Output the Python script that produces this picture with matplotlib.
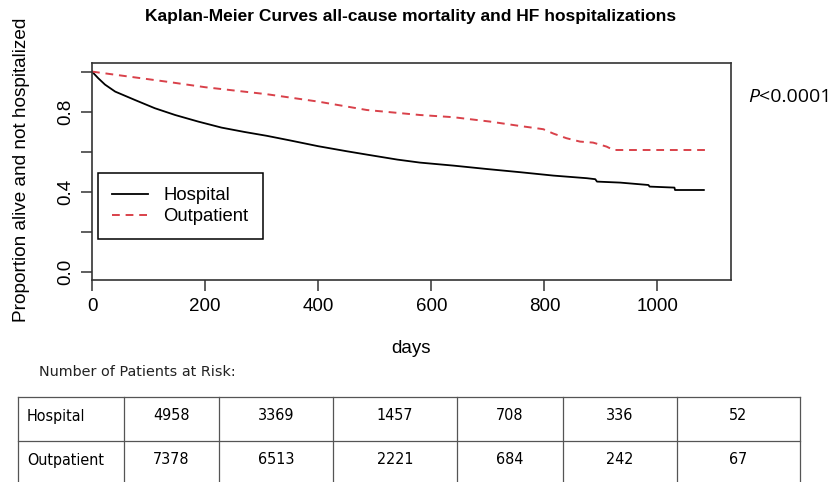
import matplotlib
matplotlib.use("Agg")
import matplotlib.pyplot as plt

# Kaplan-Meier estimates
hosp_days = [0, 11, 23, 41, 76, 111, 147, 188, 229, 270, 309, 350, 400, 450, 486,
             540, 580, 639, 698, 757, 816, 875, 890, 893, 934, 984, 986, 1030, 1031, 1082]
hosp_surv = [1.0, 0.967, 0.935, 0.9, 0.858, 0.817, 0.783, 0.75, 0.72, 0.698, 0.679,
             0.656, 0.627, 0.602, 0.585, 0.56, 0.545, 0.53, 0.513, 0.497, 0.48, 0.467,
             0.462, 0.45, 0.445, 0.433, 0.425, 0.42, 0.408, 0.408]
out_days = [0, 131, 200, 309, 400, 486, 580, 639, 704, 757, 798, 816, 839, 863, 886, 910,
            922, 1084]
out_surv = [1.0, 0.95, 0.922, 0.887, 0.85, 0.808, 0.783, 0.772, 0.75, 0.728, 0.712, 0.69,
            0.667, 0.65, 0.645, 0.625, 0.608, 0.608]

x_ticks = [0, 200, 400, 600, 800, 1000]
y_ticks = [0.0, 0.2, 0.4, 0.6, 0.8, 1.0]
y_ticklabels = ["0.0", "", "0.4", "", "0.8", ""]

groups = ["Hospital", "Outpatient"]
at_risk = [[4958, 3369, 1457, 708, 336, 52],
           [7378, 6513, 2221, 684, 242, 67]]

W, H = 839, 482
RED = "#d9414a"
R_FONT = "Liberation Sans"

fig = plt.figure(figsize=(W / 100, H / 100), dpi=100)
fig.patch.set_facecolor("white")

# km plot area (pixel box 92..731 x 63..280)
ax = fig.add_axes([92 / W, 1 - 280 / H, (731 - 92) / W, (280 - 63) / H])
l1, = ax.plot(hosp_days, hosp_surv, color="black", lw=1.3, label=groups[0])
l2, = ax.plot(out_days, out_surv, color=RED, lw=1.4, dashes=(4, 3), label=groups[1])
ax.set_xlim(0, 1130)
ax.set_ylim(-0.042, 1.043)
ax.set_xticks(x_ticks)
ax.set_xticklabels([str(v) for v in x_ticks], family=R_FONT, fontsize=13.5)
ax.set_yticks(y_ticks)
ax.set_yticklabels(y_ticklabels, family=R_FONT, fontsize=13.5, rotation=90, va="center")
ax.tick_params(direction="out", length=8, width=1.1, color="#333333", pad=5)
for s in ax.spines.values():
    s.set_linewidth(1.2)
    s.set_color("#333333")
ax.set_xlabel("days", family=R_FONT, fontsize=13.5, labelpad=18)

fig.text(22 / W, 1 - 170 / H, "Proportion alive and not hospitalized", rotation=90,
         ha="center", va="center", family=R_FONT, fontsize=13.7)
fig.text(411 / W, 1 - 17 / H, "Kaplan-Meier Curves all-cause mortality and HF hospitalizations",
         ha="center", va="center", family=R_FONT, fontsize=12.5, weight="bold")

leg = ax.legend(handles=[l1, l2], loc="lower left", bbox_to_anchor=(98 / W, 1 - 239 / H),
                bbox_transform=fig.transFigure, borderaxespad=0, fancybox=False,
                framealpha=1, edgecolor="black", handlelength=1.95, handletextpad=0.85,
                borderpad=0.75, labelspacing=0.22, prop={"family": R_FONT, "size": 13.3})
leg.get_frame().set_linewidth(1.1)

# p-value, italic P
tp = fig.text(748 / W, 1 - 97 / H, "P", family="Open Sans", style="italic", fontsize=14,
              va="center", ha="left")
ax.annotate("<0.0001", xy=(1, 0.5), xycoords=tp, va="center", ha="left",
            family="Open Sans", fontsize=14, annotation_clip=False)

# number at risk
fig.text(39 / W, 1 - 372 / H, "Number of Patients at Risk:", family="DejaVu Sans",
         fontsize=10.4, color="#222222", va="center", ha="left")

col_edges = [18, 124, 219, 333, 457, 563, 677, 800]
row_edges = [397, 441, 485]
tax = fig.add_axes([0, 0, 1, 1])
tax.set_xlim(0, W)
tax.set_ylim(H, 0)
tax.axis("off")
for xe in col_edges:
    tax.plot([xe, xe], [row_edges[0], row_edges[-1]], color="#555555", lw=0.9)
for ye in row_edges:
    tax.plot([col_edges[0], col_edges[-1]], [ye, ye], color="#555555", lw=0.9)
for r, name in enumerate(groups):
    yc = (row_edges[r] + row_edges[r + 1]) / 2 - 3
    tax.text(col_edges[0] + 9, yc, name, family="DejaVu Sans", stretch="condensed",
             fontsize=11.5, va="center", ha="left")
    for c, n in enumerate(at_risk[r]):
        xc = (col_edges[c + 1] + col_edges[c + 2]) / 2
        tax.text(xc, yc, str(n), family="DejaVu Sans", stretch="condensed", fontsize=11.5,
                 va="center", ha="center")

fig.savefig("out.png", dpi=100, facecolor="white")
